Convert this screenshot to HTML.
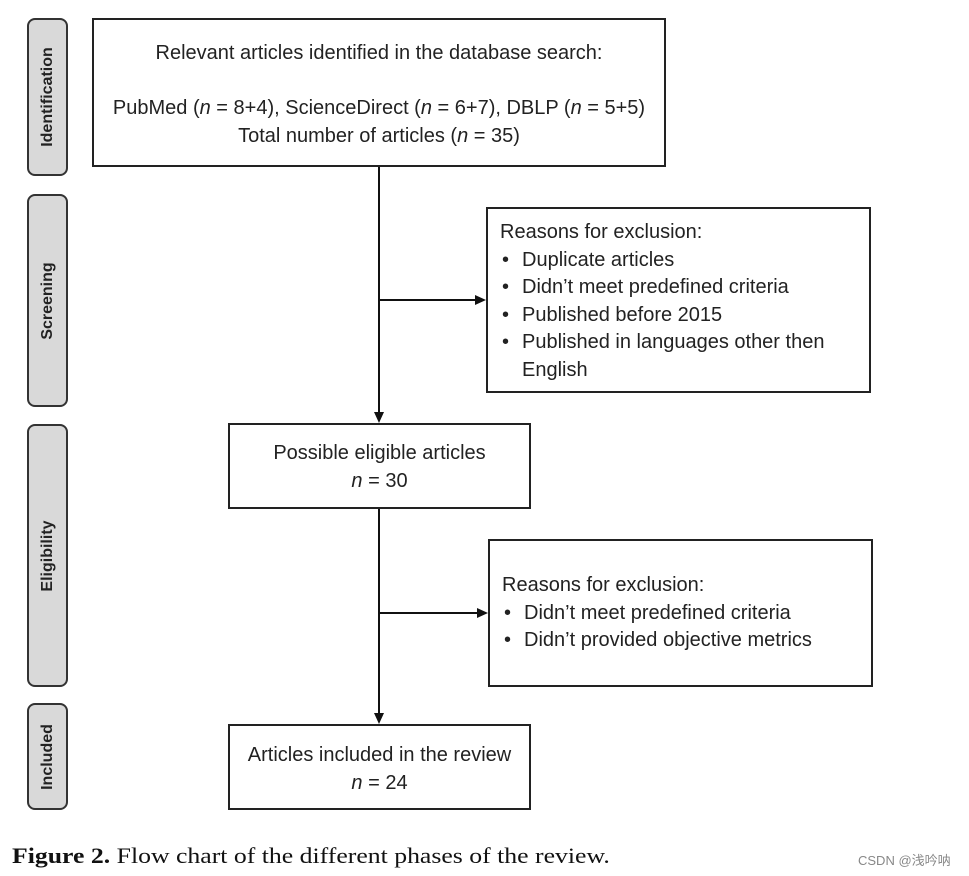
<!DOCTYPE html>
<html><head><style>
body{margin:0;width:969px;height:876px;background:#fff;position:relative;font-family:"Liberation Sans",sans-serif;color:#222;overflow:hidden}
.side{position:absolute;left:27px;width:41px;background:#d9d9d9;border:2px solid #333;border-radius:8px;box-sizing:border-box}
.side span{position:absolute;left:50%;top:50%;transform:translate(-50%,-50%) rotate(-90deg);font-weight:bold;font-size:16px;white-space:nowrap;color:#222}
.box{position:absolute;border:2px solid #222;box-sizing:border-box;background:#fff;font-size:20px;line-height:28px;white-space:nowrap}
.c{text-align:center}
ul{margin:0;padding-left:22px}
li{list-style:none;position:relative}
li:before{content:"•";position:absolute;left:-20px}
</style></head><body>
<div class="side" style="top:18px;height:158px"><span>Identification</span></div>
<div class="side" style="top:194px;height:213px"><span>Screening</span></div>
<div class="side" style="top:424px;height:263px"><span>Eligibility</span></div>
<div class="side" style="top:703px;height:107px"><span>Included</span></div>

<div class="box c" style="left:92px;top:18px;width:574px;height:149px;padding-top:19px">Relevant articles identified in the database search:<div style="height:27px"></div>PubMed (<i>n</i> = 8+4), ScienceDirect (<i>n</i> = 6+7), DBLP (<i>n</i> = 5+5)<br>Total number of articles (<i>n</i> = 35)</div>

<div class="box" style="left:486px;top:207px;width:385px;height:186px;padding:10px 0 0 12px;line-height:27.5px">Reasons for exclusion:<ul><li>Duplicate articles</li><li>Didn’t meet predefined criteria</li><li>Published before 2015</li><li>Published in languages other then<br>English</li></ul></div>

<div class="box c" style="left:228px;top:423px;width:303px;height:86px;padding-top:14px">Possible eligible articles<br><i>n</i> = 30</div>

<div class="box" style="left:488px;top:539px;width:385px;height:148px;padding:31px 0 0 12px;line-height:27.5px">Reasons for exclusion:<ul><li>Didn’t meet predefined criteria</li><li>Didn’t provided objective metrics</li></ul></div>

<div class="box c" style="left:228px;top:724px;width:303px;height:86px;padding-top:15px">Articles included in the review<br><i>n</i> = 24</div>

<svg style="position:absolute;left:0;top:0" width="969" height="876">
<g stroke="#111" stroke-width="2" fill="#111">
<line x1="379" y1="167" x2="379" y2="414"/><polygon points="374,412 384,412 379,423" stroke="none"/>
<line x1="379" y1="300" x2="477" y2="300"/><polygon points="475,295 475,305 486,300" stroke="none"/>
<line x1="379" y1="509" x2="379" y2="715"/><polygon points="374,713 384,713 379,724" stroke="none"/>
<line x1="379" y1="613" x2="479" y2="613"/><polygon points="477,608 477,618 488,613" stroke="none"/>
</g></svg>

<div style="position:absolute;left:12px;top:843px;font-family:'Liberation Serif',serif;font-size:22px;color:#111;white-space:nowrap;transform:scaleX(1.17);transform-origin:left top"><b>Figure 2.</b> Flow chart of the different phases of the review.</div>
<div style="position:absolute;left:858px;top:850px;font-size:13px;color:#888;font-family:'Liberation Sans','Noto Sans CJK SC',sans-serif">CSDN @浅吟呐</div>
</body></html>
